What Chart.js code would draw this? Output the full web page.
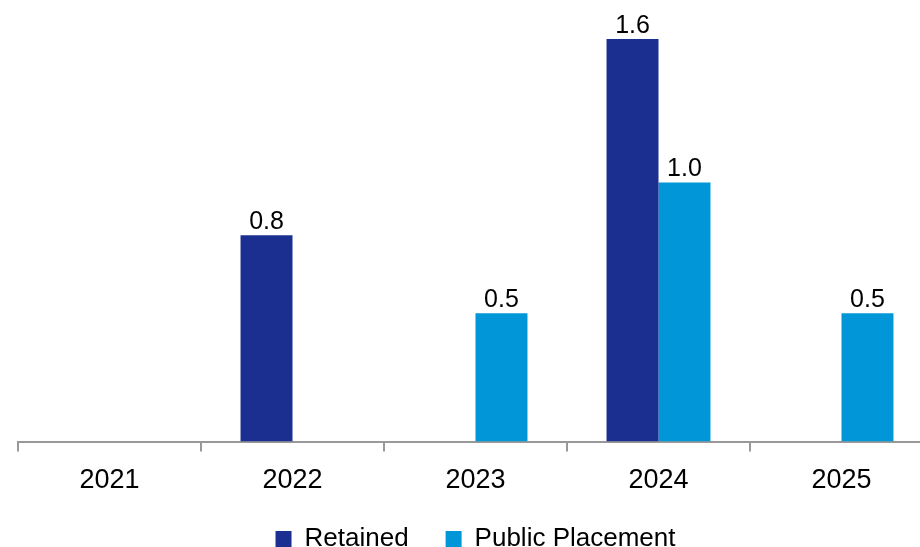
<!DOCTYPE html>
<html>
<head>
<meta charset="utf-8">
<script src="https://cdn.jsdelivr.net/npm/chart.js@4.4.1/dist/chart.umd.min.js"></script>
<style>
  html, body { margin: 0; padding: 0; background: #fff; overflow: hidden; }
  #frame { width: 920px; height: 547px; overflow: hidden; position: relative; }
  #box { position: absolute; left: 0; top: 0; width: 940px; height: 562px; }
</style>
</head>
<body>
<div id="frame"><div id="box"><canvas id="chart"></canvas></div></div>
<script>
const years = ['2021', '2022', '2023', '2024', '2025'];
const retained = [null, 0.82, null, 1.6, null];
const publicPlacement = [null, null, 0.51, 1.03, 0.51];

const FONT = '"Liberation Sans", Arial, sans-serif';

// draws the value above each bar, one decimal
const valueLabels = {
    id: 'valueLabels',
    afterDatasetsDraw(chart) {
        const ctx = chart.ctx;
        ctx.save();
        ctx.font = '25px ' + FONT;
        ctx.fillStyle = '#000';
        ctx.textAlign = 'center';
        ctx.textBaseline = 'alphabetic';
        chart.data.datasets.forEach((ds, i) => {
            chart.getDatasetMeta(i).data.forEach((bar, j) => {
                const v = ds.data[j];
                if (v == null) return;
                ctx.fillText(v.toFixed(1), bar.x, bar.y - 6);
            });
        });
        ctx.restore();
    }
};

new Chart(document.getElementById('chart'), {
    type: 'bar',
    data: {
        labels: years,
        datasets: [
            {
                label: 'Retained',
                data: retained,
                backgroundColor: '#1b2f91',
                borderWidth: 0,
            },
            {
                label: 'Public Placement',
                data: publicPlacement,
                backgroundColor: '#0096d7',
                borderWidth: 0,
            },
        ],
    },
    options: {
        responsive: true,
        maintainAspectRatio: false,
        animation: false,
        layout: { padding: { left: 18, right: 7, top: 0, bottom: 0 } },
        datasets: {
            bar: { barPercentage: 1, categoryPercentage: 0.568 }
        },
        plugins: {
            tooltip: { enabled: false },
            legend: {
                position: 'bottom',
                labels: {
                    boxWidth: 16,
                    boxHeight: 16,
                    padding: 37,
                    color: '#000',
                    font: { family: FONT, size: 26 },
                },
            },
        },
        scales: {
            x: {
                afterFit: (scale) => { scale.height -= 21; },
                grid: {
                    offset: true,
                    drawOnChartArea: false,
                    drawTicks: true,
                    tickLength: 10,
                    color: '#999',
                    lineWidth: 2,
                },
                border: { display: true, color: '#999', width: 2 },
                ticks: {
                    color: '#000',
                    padding: 13,
                    font: { family: FONT, size: 27 },
                },
            },
            y: {
                display: false,
                min: 0,
                max: 1.755,
            },
        },
    },
    plugins: [valueLabels],
});
</script>
</body>
</html>
